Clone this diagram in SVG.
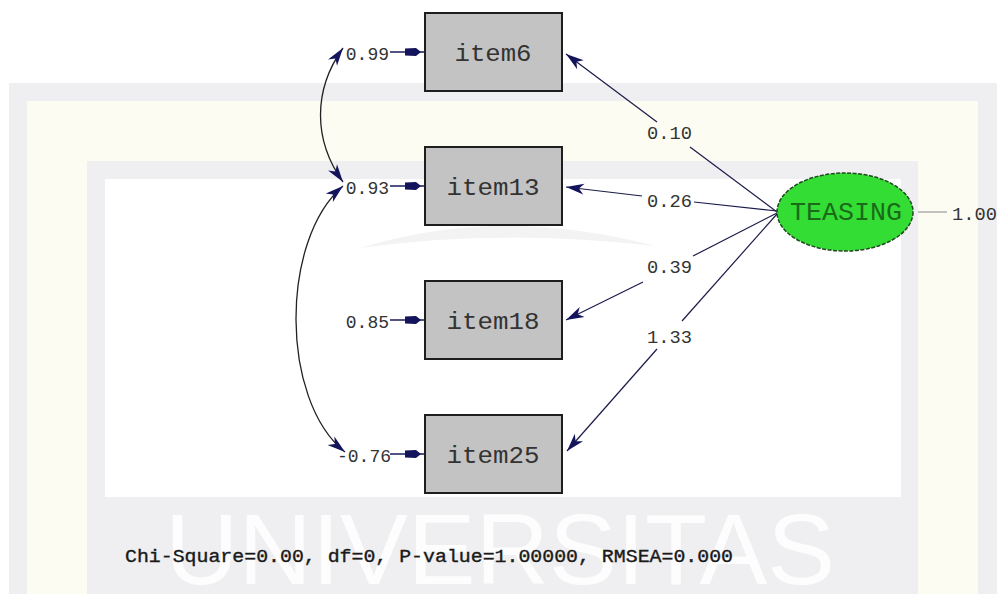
<svg xmlns="http://www.w3.org/2000/svg" width="1002" height="594" viewBox="0 0 1002 594">
<defs>
<style>
.bgG{fill:#efeff1}
.bgC{fill:#fdfcf2}
.box{fill:#c3c3c3;stroke:#1e1e1e;stroke-width:2}
.itxt{font-family:"Liberation Mono","Courier New",monospace;font-size:24px;fill:#333;text-anchor:middle}
.lbl{font-family:"Liberation Mono","Courier New",monospace;font-size:18px;fill:#333}
.lblR{font-family:"Liberation Mono","Courier New",monospace;font-size:18px;fill:#333;text-anchor:end}
.load{stroke:#1b1b4a;stroke-width:1.2;fill:none}
.cov{stroke:#222;stroke-width:1.3;fill:none}
.err{stroke:#1b1b5a;stroke-width:1.5;fill:none}
.wm{font-family:"Liberation Sans",Arial,sans-serif;font-size:100px;fill:#fdfdfd}
</style>
<marker id="ah" markerUnits="userSpaceOnUse" markerWidth="22" markerHeight="14" viewBox="-20 -7 22 14" refX="0" refY="0" orient="auto-start-reverse">
<path d="M0,0 L-18,-5.5 L-13,0 L-18,5.5 Z" fill="#14145c"/>
</marker>
<marker id="eh" markerUnits="userSpaceOnUse" markerWidth="22" markerHeight="10" viewBox="-20 -5 22 10" refX="0" refY="0" orient="auto">
<path d="M-3,0 L-8,-4 L-19,-3.5 L-19,3.5 L-8,4 Z" fill="#14145c"/>
</marker>
</defs>

<g id="background">
<rect x="0" y="0" width="1002" height="594" fill="#ffffff"/>
<rect class="bgG" x="9" y="83" width="988" height="511"/>
<rect class="bgC" x="27" y="101" width="951" height="493"/>
<rect class="bgG" x="87" y="161" width="831" height="433"/>
<rect x="105" y="179" width="796" height="318" fill="#ffffff"/>
<path d="M360,248 Q500,205 655,246 Q500,228 360,248 Z" fill="#f3f3f3"/>
<text class="wm" x="165" y="584" textLength="670" lengthAdjust="spacingAndGlyphs">UNIVERSITAS</text>
</g>

<g id="connectors">
<line class="err" x1="390" y1="52" x2="424" y2="52" marker-end="url(#eh)"/>
<line class="err" x1="390" y1="186" x2="424" y2="186" marker-end="url(#eh)"/>
<line class="err" x1="390" y1="320" x2="424" y2="320" marker-end="url(#eh)"/>
<line class="err" x1="390" y1="454" x2="424" y2="454" marker-end="url(#eh)"/>
<path class="cov" d="M343,48 C313,90 313,140 343,182" marker-start="url(#ah)" marker-end="url(#ah)"/>
<path class="cov" d="M343,186 C280,240 280,400 345,452" marker-start="url(#ah)" marker-end="url(#ah)"/>
<line class="load" x1="657" y1="122" x2="566" y2="54" marker-end="url(#ah)"/>
<line class="load" x1="777" y1="212" x2="690" y2="147"/>
<line class="load" x1="642" y1="196" x2="566" y2="187" stroke-width="2" marker-end="url(#ah)"/>
<line class="load" x1="777" y1="211" x2="694" y2="202" stroke-width="2"/>
<line class="load" x1="643" y1="282" x2="566" y2="320" marker-end="url(#ah)"/>
<line class="load" x1="777" y1="213" x2="693" y2="256"/>
<line class="load" x1="657" y1="349" x2="567" y2="451" marker-end="url(#ah)"/>
<line class="load" x1="777" y1="214" x2="682" y2="321"/>
<line x1="918" y1="212" x2="947" y2="212" stroke="#9a9a9a" stroke-width="1.2"/>
<text class="lbl" x="647" y="139" textLength="45" lengthAdjust="spacingAndGlyphs">0.10</text>
<text class="lbl" x="647" y="207" textLength="45" lengthAdjust="spacingAndGlyphs">0.26</text>
<text class="lbl" x="647" y="273" textLength="45" lengthAdjust="spacingAndGlyphs">0.39</text>
<text class="lbl" x="647" y="343" textLength="45" lengthAdjust="spacingAndGlyphs">1.33</text>
<text class="lbl" x="952" y="220" textLength="45" lengthAdjust="spacingAndGlyphs">1.00</text>
<text class="lblR" x="389" y="60">0.99</text>
<text class="lblR" x="389" y="194">0.93</text>
<text class="lblR" x="389" y="328">0.85</text>
<text class="lblR" x="391" y="462">-0.76</text>
</g>

<g id="item6">
<rect class="box" x="425" y="13" width="137" height="78"/>
<text class="itxt" x="493" y="61" textLength="77" lengthAdjust="spacingAndGlyphs">item6</text>
</g>
<g id="item13">
<rect class="box" x="425" y="147" width="137" height="78"/>
<text class="itxt" x="493" y="195" textLength="93" lengthAdjust="spacingAndGlyphs">item13</text>
</g>
<g id="item18">
<rect class="box" x="425" y="281" width="137" height="78"/>
<text class="itxt" x="493" y="329" textLength="93" lengthAdjust="spacingAndGlyphs">item18</text>
</g>
<g id="item25">
<rect class="box" x="425" y="415" width="137" height="78"/>
<text class="itxt" x="493" y="463" textLength="93" lengthAdjust="spacingAndGlyphs">item25</text>
</g>

<g id="teasing">
<ellipse cx="845" cy="212" rx="68" ry="39" fill="#33dd33" stroke="#1f4a1f" stroke-width="1.5" stroke-dasharray="4 1.5"/>
<text x="846" y="220" font-family="Liberation Mono, Courier New, monospace" font-size="25" fill="#1a6a1a" text-anchor="middle" textLength="112" lengthAdjust="spacingAndGlyphs">TEASING</text>
</g>

<text id="fit" x="125" y="562" font-family="Liberation Mono, Courier New, monospace" font-size="18" fill="#1a1a1a" stroke="#1a1a1a" stroke-width="0.35" textLength="608" lengthAdjust="spacingAndGlyphs">Chi-Square=0.00, df=0, P-value=1.00000, RMSEA=0.000</text>
</svg>
